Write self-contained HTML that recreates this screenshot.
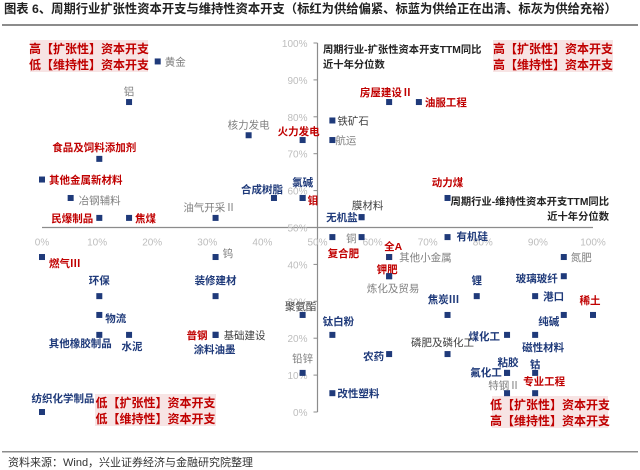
<!DOCTYPE html>
<html><head><meta charset="utf-8"><style>
html,body{margin:0;padding:0;background:#fff}
svg{display:block;font-family:"Liberation Sans","Noto Sans CJK SC",sans-serif}
</style></head><body>
<svg id="chart" width="640" height="470" viewBox="0 0 640 470">
<text x="4" y="13" font-size="12.3" font-weight="bold" fill="#222">图表 6、周期行业扩张性资本开支与维持性资本开支（标红为供给偏紧、标蓝为供给正在出清、标灰为供给充裕）</text>
<rect x="2" y="24" width="636" height="2" fill="#8c8c8c"/>
<rect x="2" y="451" width="636" height="1.5" fill="#8c8c8c"/>
<text x="8" y="466" font-size="11" fill="#333">资料来源：Wind，兴业证券经济与金融研究院整理</text>
<g id="boxes"></g>
<g id="axes"></g>
<g id="marks"></g>
<text x="323" y="53" font-size="10.3" font-weight="bold" fill="#222">周期行业-扩张性资本开支TTM同比</text>
<text x="323" y="68" font-size="10.3" font-weight="bold" fill="#222">近十年分位数</text>
<text x="609" y="205" font-size="10.3" font-weight="bold" fill="#222" text-anchor="end">周期行业-维持性资本开支TTM同比</text>
<text x="609" y="220" font-size="10.3" font-weight="bold" fill="#222" text-anchor="end">近十年分位数</text>
</svg>
<script>
const names=["黄金","铝","核力发电","火力发电","食品及饲料添加剂","其他金属新材料","冶钢辅料","合成树脂","氯碱","钼","民爆制品","焦煤","油气开采Ⅱ","房屋建设Ⅱ","油服工程","铁矿石","航运","动力煤","膜材料","无机盐","复合肥","铜","有机硅","全A","其他小金属","氮肥","钾肥","炼化及贸易","玻璃玻纤","锂","港口","焦炭Ⅲ","纯碱","稀土","聚氨酯","钛白粉","煤化工","磁性材料","农药","磷肥及磷化工","粘胶","氟化工","钴","铅锌","改性塑料","特钢Ⅱ","专业工程","燃气Ⅲ","钨","环保","装修建材","物流","其他橡胶制品","水泥","普钢","基础建设","涂料油墨","纺织化学制品"];
const maintPct=[21,15.8,37.5,47.3,10.4,0,5.2,42.1,47.3,47.3,10.4,15.8,31.5,63,68.4,52.7,52.7,73.6,58,58,52.7,58,73.6,63,63,94.7,63,63,94.7,78.9,89.5,73.6,94.7,100,47.3,52.7,84.4,89.5,63,73.6,84.4,84.4,89.5,47.3,52.7,84.4,89.5,0,31.5,10.4,31.5,10.4,10.4,15.8,31.5,31.5,31.5,0];
const expandPct=[95,84,75,73.7,68.6,63,58,58,58,58,52.6,52.6,52.6,84,84,79,73.7,58,52.8,52.8,47.4,47.4,47.4,42,42,42,36.8,36.8,36.8,31.4,31.4,26.3,26.3,26.3,26.3,20.9,20.9,20.9,15.7,15.7,10.6,10.6,10.6,10.6,5.1,5.1,5.1,42,42,31.4,31.4,26.3,20.9,20.9,20.9,20.9,20.9,0];
const supply=["g","g","g","r","r","r","g","b","b","r","r","r","g","r","r","k","g","r","k","b","r","g","b","r","g","g","r","g","b","b","b","b","b","r","k","b","b","b","b","k","b","b","b","g","b","g","r","r","g","b","b","b","b","b","r","k","b","b"];
const xTicks=[0,10,20,30,40,50,60,70,80,90,100];
const yTicks=[0,10,20,30,40,50,60,70,80,90,100];
// label offsets [dx,dy,anchor]
const lab=[[7,4,"s"],[0,-7,"m"],[0,-7,"m"],[-4,-5,"m"],[-5,-8,"m"],[7,4,"s"],[8,6,"s"],[-12,-5,"m"],[0,-12,"m"],[5,6,"s"],[-6,4,"e"],[6,4,"s"],[-6,-7,"m"],[-3,-6,"m"],[6,4,"s"],[5,4,"s"],[3,4,"s"],[0,-12,"m"],[6,-8,"m"],[-4,4,"e"],[11,20,"m"],[-5,5,"e"],[9,3,"s"],[4,-7,"m"],[10,4,"s"],[7,4,"s"],[-2,-3,"m"],[4,16,"m"],[-6,6,"e"],[0,-12,"m"],[8,4,"s"],[-4,-12,"m"],[-15,10,"m"],[-3,-11,"m"],[-2,-5,"m"],[6,-10,"m"],[-7,5,"e"],[8,16,"m"],[-5,6,"e"],[-5,-8,"m"],[1,-7,"m"],[-21,3,"m"],[0,-5,"m"],[0,-11,"m"],[5,4,"s"],[-3,-4,"m"],[9,-8,"m"],[7,10,"s"],[7,0,"s"],[0,-12,"m"],[0,-12,"m"],[6,7,"s"],[-19,12,"m"],[3,15,"m"],[-8,4,"e"],[8,4,"s"],[-1,18,"m"],[21,-10,"m"]];
const NS="http://www.w3.org/2000/svg";
const sx=v=>42+5.51*v, sy=v=>412-3.69*v;
function mk(tag,at,parent){const e=document.createElementNS(NS,tag);for(const k in at)e.setAttribute(k,at[k]);parent.appendChild(e);return e;}
const axes=document.getElementById("axes"),marks=document.getElementById("marks"),boxes=document.getElementById("boxes");
const bx=[[30,40,118,32,"高【扩张性】资本开支","低【维持性】资本开支","quadrant-label-top-left"],[493,40,120,32,"高【扩张性】资本开支","高【维持性】资本开支","quadrant-label-top-right"],[95,394,121,32,"低【扩张性】资本开支","低【维持性】资本开支","quadrant-label-bottom-left"],[492,396,116,32,"低【扩张性】资本开支","高【维持性】资本开支","quadrant-label-bottom-right"]];
bx.forEach(b=>{const g=mk("g",{},boxes);


mk("rect",{x:b[0],y:b[1],width:b[2],height:b[3],fill:"#f7e4e4"},g);
const t1=mk("text",{x:b[0]+b[2]/2,y:b[1]+13,"font-size":"12","font-weight":"bold",fill:"#c00000","text-anchor":"middle"},g);t1.textContent=b[4];
const t2=mk("text",{x:b[0]+b[2]/2,y:b[1]+29,"font-size":"12","font-weight":"bold",fill:"#c00000","text-anchor":"middle"},g);t2.textContent=b[5];});
const xa=mk("line",{x1:sx(0),x2:sx(100),y1:sy(50),y2:sy(50),stroke:"#8c8c8c","stroke-width":1.2},axes);


const ya=mk("line",{x1:sx(50),x2:sx(50),y1:sy(100),y2:sy(0),stroke:"#8c8c8c","stroke-width":1.2},axes);


xTicks.forEach(v=>{const t=mk("text",{x:sx(v),y:sy(50)+18,"font-size":"10",fill:"#bdbdbd","text-anchor":"middle"},axes);t.textContent=v+"%";

});
yTicks.forEach(v=>{mk("line",{x1:sx(50)-4,x2:sx(50),y1:sy(v),y2:sy(v),stroke:"#8c8c8c"},axes);
const t=mk("text",{x:sx(50)-10,y:sy(v)+4,"font-size":"10",fill:"#bdbdbd","text-anchor":"end"},axes);t.textContent=v+"%";

});
const col={r:"#c00000",b:"#1f3a7a",g:"#808080",k:"#404040"};
names.forEach((n,i)=>{const x=sx(maintPct[i]),y=sy(expandPct[i]);
const p=mk("rect",{x:x-3,y:y-3,width:6,height:6,fill:n==="全A"?"#c00000":"#1f3a7a"},marks);


const L=lab[i];const t=mk("text",{x:x+L[0],y:y+L[1],"font-size":"10.5","font-weight":supply[i]==="g"||supply[i]==="k"?"normal":"bold",fill:col[supply[i]],"text-anchor":L[2]==="s"?"start":L[2]==="e"?"end":"middle"},marks);
t.textContent=n;

});
</script>
</body></html>
